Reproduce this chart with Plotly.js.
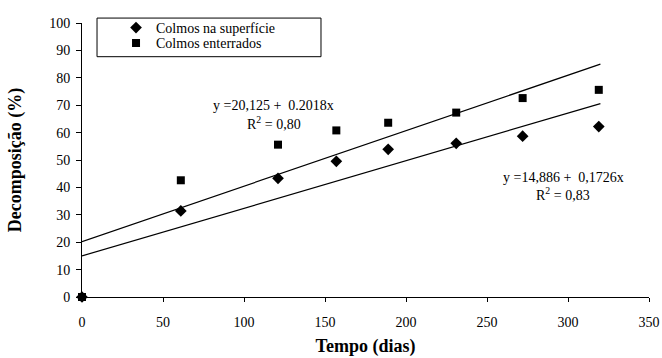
<!DOCTYPE html>
<html>
<head>
<meta charset="utf-8">
<script src="https://cdn.plot.ly/plotly-3.0.1.min.js"></script>
<style>html,body{margin:0;padding:0;background:#fff;}#chart{width:662px;height:358px;}</style>
</head>
<body>
<div id="chart"></div>
<script>
// Data
var days = [0, 61, 121, 157, 189, 231, 272, 319];
var superficie = [0, 31.4, 43.3, 49.5, 53.9, 56.1, 58.7, 62.2];
var enterrados = [0, 42.6, 55.6, 60.8, 63.6, 67.3, 72.6, 75.6];
// Trend line end points
var trendX = [0, 320];
var trendSuperficie = [15.0, 70.6];
var trendEnterrados = [20.2, 85.0];
var xTicks = [0, 50, 100, 150, 200, 250, 300, 350];
var yTicks = [0, 10, 20, 30, 40, 50, 60, 70, 80, 90, 100];
var eqEnterrados = "y =20,125 +\u00a0\u00a00.2018x";
var r2Enterrados = "R<sup>2</sup> = 0,80";
var eqSuperficie = "y =14,886 +\u00a0\u00a00,1726x";
var r2Superficie = "R<sup>2</sup> = 0,83";

var FONT = '"Liberation Serif", "Times New Roman", Times, serif';

var traces = [
  {x: days, y: superficie, type: "scatter", mode: "markers", name: "Colmos na superfície",
   marker: {symbol: "diamond", size: 9, color: "#000"}, cliponaxis: false, legend: "legend"},
  {x: days, y: enterrados, type: "scatter", mode: "markers", name: "Colmos enterrados",
   marker: {symbol: "square", size: 8, color: "#000"}, cliponaxis: false, legend: "legend2"},
  {x: trendX, y: trendEnterrados, type: "scatter", mode: "lines", showlegend: false,
   line: {color: "#000", width: 1.2}, hoverinfo: "skip"},
  {x: trendX, y: trendSuperficie, type: "scatter", mode: "lines", showlegend: false,
   line: {color: "#000", width: 1.2}, hoverinfo: "skip"}
];

var legendBase = {xanchor: "left", yanchor: "middle", bgcolor: "rgba(0,0,0,0)", borderwidth: 0,
                  font: {family: FONT, size: 14, color: "#000"}};

var layout = {
  width: 662, height: 358,
  margin: {l: 82, r: 13, t: 20, b: 61},
  paper_bgcolor: "#fff", plot_bgcolor: "#fff",
  font: {family: FONT, size: 14, color: "#000"},
  showlegend: true,
  legend: Object.assign({x: 0.06, y: 0.982}, legendBase),
  legend2: Object.assign({x: 0.06, y: 0.926}, legendBase),
  xaxis: {range: [0, 350], tickvals: xTicks, ticks: "outside", ticklen: 4, tickwidth: 1,
          tickcolor: "#000", showline: true, linecolor: "#000", linewidth: 1,
          showgrid: false, zeroline: false, ticklabelstandoff: 8, automargin: false,
          tickfont: {family: FONT, size: 14, color: "#000"},
          title: {text: "<b>Tempo (dias)</b>", font: {family: FONT, size: 18, color: "#000"}, standoff: 10}},
  yaxis: {range: [0, 100], tickvals: yTicks, ticks: "outside", ticklen: 5, tickwidth: 1,
          tickcolor: "#000", showline: true, linecolor: "#000", linewidth: 1,
          showgrid: false, zeroline: false, ticklabelstandoff: 3, automargin: false,
          tickfont: {family: FONT, size: 14, color: "#000"},
          title: {text: "<b>Decomposição (%)</b>", font: {family: FONT, size: 18, color: "#000"}, standoff: 22}},
  shapes: [
    {type: "rect", xref: "paper", yref: "paper", x0: 0.0265, x1: 0.4215, y0: 0.877, y1: 1.018,
     line: {color: "#000", width: 1}, fillcolor: "rgba(0,0,0,0)"}
  ],
  annotations: [
    {x: 118.5, y: 69.8, xref: "x", yref: "y", text: eqEnterrados, showarrow: false, font: {family: FONT, size: 14}},
    {x: 118.5, y: 63.6, xref: "x", yref: "y", text: r2Enterrados, showarrow: false, font: {family: FONT, size: 14}},
    {x: 297, y: 43.7, xref: "x", yref: "y", text: eqSuperficie, showarrow: false, font: {family: FONT, size: 14}},
    {x: 297, y: 37.6, xref: "x", yref: "y", text: r2Superficie, showarrow: false, font: {family: FONT, size: 14}}
  ]
};

Plotly.newPlot("chart", traces, layout, {displayModeBar: false, staticPlot: true});
</script>
</body>
</html>
